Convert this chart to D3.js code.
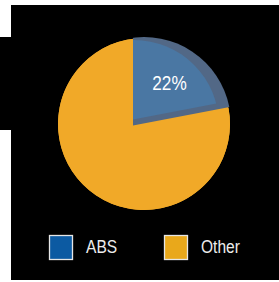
<!DOCTYPE html>
<html>
<head>
<meta charset="utf-8">
<script src="https://cdn.jsdelivr.net/npm/d3@7"></script>
<style>
  html, body { margin: 0; padding: 0; background: #fff; }
  svg { display: block; }
</style>
</head>
<body>
<div id="chart"></div>
<script>
// pie of ABS share vs other
const categories = ["ABS", "Other"];
const values = [22, 78];
const sliceColors = ["#4a77a3", "#f1a928"];
const legendColors = ["#0c5aa2", "#e9a81b"];

let width = 279, height = 282;
let cx = 144, cy = 124, radius = 86;

let svg = d3.select("#chart")
            .append("svg")
            .attr("width", width)
            .attr("height", height);

// black panel
svg.append("rect").attr("x", 11).attr("y", 5).attr("width", 268).attr("height", 275).attr("fill", "#000");
svg.append("rect").attr("x", 0).attr("y", 37).attr("width", 11).attr("height", 93).attr("fill", "#000");

let defs = svg.append("defs");
defs.append("clipPath").attr("id", "clipOuter")
    .append("circle").attr("cx", cx).attr("cy", cy).attr("r", radius + 1);
defs.append("clipPath").attr("id", "clipInner")
    .append("circle").attr("cx", cx - 10).attr("cy", cy + 1).attr("r", radius - 1);

let pie = d3.pie().sort(null).value(function(d) { return d; });
let arcs = pie(values);

let arc = d3.arc().innerRadius(0).outerRadius(radius);
let bigArc = d3.arc().innerRadius(0).outerRadius(radius * 1.6);

// base disc + other slice
svg.append("circle").attr("cx", cx).attr("cy", cy).attr("r", radius).attr("fill", sliceColors[1]);
svg.append("path")
   .attr("transform", "translate(" + cx + "," + cy + ")")
   .attr("d", arc(arcs[1]))
   .attr("fill", sliceColors[1]);

// ABS slice, raised with bevel
let apexX = cx - 11, apexY = cy + 1.5;
svg.append("g").attr("clip-path", "url(#clipOuter)")
   .append("path")
   .attr("transform", "translate(" + apexX + "," + apexY + ")")
   .attr("d", bigArc(arcs[0]))
   .attr("fill", "#526886");
svg.append("g").attr("clip-path", "url(#clipInner)")
   .append("path")
   .attr("transform", "translate(" + apexX + "," + (apexY - 6) + ")")
   .attr("d", bigArc(arcs[0]))
   .attr("fill", sliceColors[0]);

let font = "'Liberation Sans', Arial, sans-serif";
let squeeze = 0.82;

svg.append("text")
   .attr("transform", "translate(169.5,90) scale(" + squeeze + ",1)")
   .attr("text-anchor", "middle")
   .attr("font-family", font)
   .attr("font-size", 21)
   .attr("fill", "#fff")
   .text(Math.round(values[0] / d3.sum(values) * 100) + "%");

// legend
let lx = d3.scalePoint().domain(categories).range([49, 164]);
let legend = svg.selectAll(".legend")
   .data(categories)
   .enter().append("g")
   .attr("class", "legend")
   .attr("transform", function(d) { return "translate(" + lx(d) + ",235)"; });

legend.append("rect")
   .attr("x", 0.5).attr("y", 0.5)
   .attr("width", 23).attr("height", 24)
   .attr("fill", function(d, i) { return legendColors[i]; })
   .attr("stroke", "#e6e6e6")
   .attr("stroke-width", 1.3);

legend.append("text")
   .attr("transform", "translate(37,18) scale(" + squeeze + ",1)")
   .attr("font-family", font)
   .attr("font-size", 19)
   .attr("fill", "#ececec")
   .text(function(d) { return d; });
</script>
</body>
</html>
